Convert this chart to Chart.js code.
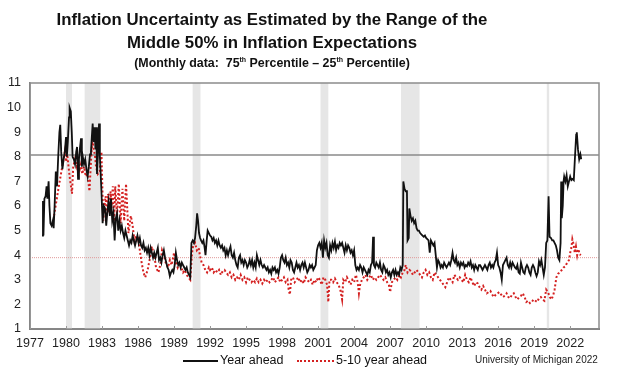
<!DOCTYPE html>
<html>
<head>
<meta charset="utf-8">
<title>Inflation Uncertainty</title>
<script src="https://cdn.jsdelivr.net/npm/chart.js@4.4.1/dist/chart.umd.min.js"></script>
<style>
    html, body { margin: 0; padding: 0; background: #fff; }
    body { width: 620px; height: 376px; position: relative; overflow: hidden; font-family: "Liberation Sans", Arial, sans-serif; color: #111; }
    #chart { position: absolute; left: 0; top: 0; }
    .title { position: absolute; left: 0; width: 544px; text-align: center; font-weight: bold; }
    .title.main { top: 8px; font-size: 16.8px; line-height: 23px; }
    .title.sub { top: 56px; font-size: 12.4px; line-height: 14px; }
    .title sup { font-size: 7px; vertical-align: 5px; line-height: 0; }
    .legend { position: absolute; top: 352px; font-size: 12.5px; line-height: 16px; white-space: nowrap; }
    .legend .swatch { position: absolute; top: 8px; width: 35px; height: 0; }
    .source { position: absolute; left: 475px; top: 354px; font-size: 10px; line-height: 12px; color: #222; }
</style>
</head>
<body>
<canvas id="chart" width="620" height="376"></canvas>
<div class="title main">Inflation Uncertainty as Estimated by the Range of the<br>Middle 50% in Inflation Expectations</div>
<div class="title sub">(Monthly data:&nbsp; 75<sup>th</sup> Percentile – 25<sup>th</sup> Percentile)</div>
<div class="legend" style="left:183px;"><span class="swatch" style="left:0;border-top:2px solid #111;"></span><span style="margin-left:37px;">Year ahead</span></div>
<div class="legend" style="left:297px;"><span class="swatch" style="left:0;width:37px;border-top:2px dotted #d42020;"></span><span style="margin-left:39px;">5-10 year ahead</span></div>
<div class="source">University of Michigan 2022</div>
<script>
// data: [decimal year, percentage points]
const yearAhead = [
    [1978.00, 4.8], [1978.08, 6.2], [1978.12, 4.8], [1978.20, 6.3], [1978.30, 6.4], [1978.38, 6.8],
    [1978.45, 6.3], [1978.55, 7.0], [1978.62, 6.0], [1978.70, 5.3], [1978.80, 5.2], [1978.90, 5.4],
    [1978.97, 5.1], [1979.05, 6.0], [1979.15, 7.4], [1979.25, 6.8], [1979.35, 8.0], [1979.45, 9.0],
    [1979.52, 9.3], [1979.60, 8.2], [1979.70, 7.5], [1979.80, 7.9], [1979.90, 8.2], [1980.00, 8.8],
    [1980.07, 8.0], [1980.15, 8.6], [1980.25, 9.6], [1980.30, 10.0], [1980.40, 9.85], [1980.48, 9.0],
    [1980.55, 8.0], [1980.65, 7.9], [1980.75, 7.7], [1980.85, 8.2], [1980.92, 8.4], [1981.00, 7.1],
    [1981.08, 7.9], [1981.15, 8.3], [1981.25, 8.75], [1981.32, 7.6], [1981.40, 8.0], [1981.50, 7.7],
    [1981.60, 7.9], [1981.70, 7.5], [1981.80, 7.2], [1981.90, 7.6], [1982.00, 8.1], [1982.08, 8.2],
    [1982.15, 8.8], [1982.22, 9.35], [1982.30, 8.6], [1982.38, 9.2], [1982.45, 8.3], [1982.52, 9.2],
    [1982.58, 7.3], [1982.65, 8.0], [1982.75, 9.35], [1982.82, 8.0], [1982.88, 7.4], [1982.95, 6.6],
    [1983.05, 5.3], [1983.15, 6.0], [1983.25, 5.9], [1983.35, 5.2], [1983.45, 5.8], [1983.55, 6.2],
    [1983.65, 5.6], [1983.75, 6.3], [1983.85, 5.4], [1983.95, 5.7], [1984.05, 4.6], [1984.15, 5.5],
    [1984.25, 5.7], [1984.35, 5.0], [1984.45, 5.4], [1984.55, 5.0], [1984.65, 5.2], [1984.75, 4.9],
    [1984.85, 4.7], [1984.95, 5.0], [1985.05, 4.8], [1985.15, 4.6], [1985.25, 4.4], [1985.35, 4.6],
    [1985.45, 4.5], [1985.55, 4.8], [1985.65, 4.6], [1985.75, 4.4], [1985.85, 4.6], [1985.95, 4.8],
    [1986.05, 4.5], [1986.15, 4.7], [1986.25, 4.4], [1986.35, 4.3], [1986.45, 4.5], [1986.55, 4.2],
    [1986.65, 4.3], [1986.75, 4.1], [1986.85, 4.3], [1986.95, 4.0], [1987.05, 4.3], [1987.15, 4.1],
    [1987.25, 3.9], [1987.35, 4.1], [1987.45, 3.9], [1987.55, 4.1], [1987.65, 4.3], [1987.75, 3.8],
    [1987.85, 3.9], [1987.95, 3.7], [1988.05, 4.0], [1988.15, 4.2], [1988.25, 3.9], [1988.35, 3.7],
    [1988.45, 3.5], [1988.55, 3.4], [1988.65, 3.15], [1988.75, 3.3], [1988.85, 3.4], [1988.95, 3.3],
    [1989.05, 3.6], [1989.15, 4.1], [1989.25, 3.8], [1989.35, 3.6], [1989.45, 3.7], [1989.55, 3.5],
    [1989.65, 3.7], [1989.75, 3.6], [1989.85, 3.5], [1989.95, 3.4], [1990.05, 3.5], [1990.15, 3.3],
    [1990.25, 3.2], [1990.35, 3.1], [1990.45, 4.5], [1990.55, 4.6], [1990.65, 4.5], [1990.75, 4.7],
    [1990.85, 5.2], [1990.92, 5.7], [1991.00, 5.4], [1991.08, 4.9], [1991.17, 4.7], [1991.25, 4.6],
    [1991.35, 4.5], [1991.45, 4.6], [1991.55, 4.3], [1991.62, 4.0], [1991.72, 4.6], [1991.80, 5.0],
    [1991.90, 4.9], [1992.00, 4.8], [1992.10, 4.75], [1992.20, 4.6], [1992.30, 4.7], [1992.40, 4.5],
    [1992.50, 4.6], [1992.60, 4.4], [1992.70, 4.6], [1992.80, 4.4], [1992.90, 4.3], [1993.00, 4.4],
    [1993.10, 4.2], [1993.20, 4.3], [1993.30, 4.0], [1993.40, 4.2], [1993.50, 4.0], [1993.60, 4.2],
    [1993.70, 4.35], [1993.80, 4.0], [1993.90, 3.9], [1994.00, 4.1], [1994.10, 3.8], [1994.20, 3.6],
    [1994.30, 3.5], [1994.40, 3.9], [1994.50, 4.0], [1994.60, 3.7], [1994.70, 3.8], [1994.80, 3.6],
    [1994.90, 3.8], [1995.00, 3.7], [1995.10, 3.5], [1995.20, 3.6], [1995.30, 3.8], [1995.40, 3.6],
    [1995.50, 3.8], [1995.60, 3.5], [1995.70, 3.7], [1995.80, 3.5], [1995.90, 4.0], [1996.00, 3.8],
    [1996.10, 3.6], [1996.20, 3.8], [1996.30, 3.6], [1996.40, 3.5], [1996.50, 3.6], [1996.60, 3.5],
    [1996.70, 3.4], [1996.80, 3.5], [1996.90, 3.3], [1997.00, 3.4], [1997.10, 3.25], [1997.20, 3.5],
    [1997.30, 3.4], [1997.40, 3.5], [1997.50, 3.3], [1997.60, 3.4], [1997.70, 3.25], [1997.80, 3.5],
    [1997.90, 3.9], [1998.00, 4.0], [1998.10, 3.8], [1998.20, 3.7], [1998.30, 3.9], [1998.40, 3.6],
    [1998.50, 3.7], [1998.60, 3.5], [1998.70, 3.8], [1998.80, 3.7], [1998.90, 3.4], [1999.00, 3.3],
    [1999.10, 3.5], [1999.20, 3.7], [1999.30, 3.5], [1999.40, 3.6], [1999.50, 3.4], [1999.60, 3.6],
    [1999.70, 3.7], [1999.80, 3.5], [1999.90, 3.7], [2000.00, 3.5], [2000.10, 3.3], [2000.20, 3.4],
    [2000.30, 3.6], [2000.40, 3.5], [2000.50, 3.6], [2000.60, 3.4], [2000.70, 3.5], [2000.80, 3.6],
    [2000.90, 4.2], [2001.00, 4.4], [2001.10, 4.5], [2001.20, 4.3], [2001.30, 4.5], [2001.40, 3.9],
    [2001.50, 4.6], [2001.60, 4.3], [2001.70, 4.5], [2001.80, 4.0], [2001.90, 3.9], [2002.00, 4.4],
    [2002.10, 4.2], [2002.20, 4.5], [2002.30, 4.3], [2002.40, 4.55], [2002.50, 4.2], [2002.60, 4.4],
    [2002.70, 4.3], [2002.80, 4.5], [2002.90, 4.4], [2003.00, 4.5], [2003.10, 4.3], [2003.20, 4.1],
    [2003.30, 4.4], [2003.40, 4.2], [2003.50, 4.4], [2003.60, 4.3], [2003.70, 4.1], [2003.80, 4.2],
    [2003.90, 4.0], [2004.00, 4.2], [2004.10, 3.6], [2004.20, 3.4], [2004.30, 3.5], [2004.40, 3.4],
    [2004.50, 3.6], [2004.60, 3.5], [2004.70, 3.3], [2004.80, 3.5], [2004.90, 3.4], [2005.00, 3.3],
    [2005.10, 3.2], [2005.20, 3.4], [2005.30, 3.3], [2005.40, 3.6], [2005.50, 3.7], [2005.58, 4.75],
    [2005.65, 3.6], [2005.75, 3.5], [2005.85, 3.7], [2005.95, 3.6], [2006.05, 3.5], [2006.15, 3.7],
    [2006.25, 3.4], [2006.35, 3.3], [2006.45, 3.6], [2006.55, 3.5], [2006.65, 3.3], [2006.75, 3.4],
    [2006.85, 3.2], [2006.95, 3.3], [2007.05, 3.1], [2007.15, 3.3], [2007.25, 3.4], [2007.35, 3.2],
    [2007.45, 3.4], [2007.55, 3.2], [2007.65, 3.3], [2007.75, 3.2], [2007.85, 3.5], [2007.95, 3.4],
    [2008.05, 3.6], [2008.10, 7.0], [2008.20, 6.7], [2008.30, 6.6], [2008.40, 6.6], [2008.45, 4.6],
    [2008.55, 4.7], [2008.60, 5.9], [2008.70, 5.6], [2008.80, 5.4], [2008.90, 5.5], [2009.00, 5.3],
    [2009.10, 5.4], [2009.20, 5.1], [2009.30, 5.0], [2009.40, 5.0], [2009.50, 4.9], [2009.60, 4.85],
    [2009.70, 4.8], [2009.80, 4.75], [2009.90, 4.8], [2010.00, 4.7], [2010.10, 4.65], [2010.20, 4.6],
    [2010.30, 4.1], [2010.40, 4.6], [2010.50, 4.5], [2010.60, 4.4], [2010.70, 4.5], [2010.80, 4.0],
    [2010.90, 3.5], [2011.00, 3.8], [2011.10, 3.7], [2011.20, 3.5], [2011.30, 3.6], [2011.40, 3.5],
    [2011.50, 3.7], [2011.60, 3.6], [2011.70, 3.5], [2011.80, 3.6], [2011.90, 3.7], [2012.00, 3.6],
    [2012.10, 3.8], [2012.20, 4.1], [2012.30, 3.8], [2012.40, 3.7], [2012.50, 3.9], [2012.60, 3.6],
    [2012.70, 3.7], [2012.80, 3.5], [2012.90, 3.7], [2013.00, 3.6], [2013.10, 3.7], [2013.20, 3.5],
    [2013.30, 3.6], [2013.40, 3.55], [2013.50, 3.7], [2013.60, 3.6], [2013.70, 3.75], [2013.80, 3.5],
    [2013.90, 3.6], [2014.00, 3.4], [2014.10, 3.6], [2014.20, 3.5], [2014.30, 3.4], [2014.40, 3.6],
    [2014.50, 3.6], [2014.60, 3.5], [2014.70, 3.4], [2014.80, 3.5], [2014.90, 3.6], [2015.00, 3.5],
    [2015.10, 3.4], [2015.20, 3.6], [2015.30, 3.7], [2015.40, 3.5], [2015.50, 3.6], [2015.60, 3.5],
    [2015.70, 3.7], [2015.80, 3.8], [2015.90, 4.1], [2016.00, 3.6], [2016.10, 3.5], [2016.20, 3.3],
    [2016.30, 3.0], [2016.40, 3.6], [2016.50, 3.7], [2016.60, 3.8], [2016.70, 3.9], [2016.80, 3.6],
    [2016.90, 3.5], [2017.00, 3.7], [2017.10, 3.5], [2017.20, 3.7], [2017.30, 3.6], [2017.40, 3.5],
    [2017.50, 3.45], [2017.60, 3.6], [2017.70, 3.3], [2017.80, 3.25], [2017.90, 3.7], [2018.00, 3.5],
    [2018.10, 3.3], [2018.20, 3.25], [2018.30, 3.5], [2018.40, 3.6], [2018.50, 3.5], [2018.60, 3.3],
    [2018.70, 3.2], [2018.80, 3.5], [2018.90, 3.6], [2019.00, 3.5], [2019.10, 3.3], [2019.20, 3.15],
    [2019.30, 3.3], [2019.40, 3.75], [2019.50, 3.6], [2019.60, 3.8], [2019.70, 3.5], [2019.80, 3.2],
    [2019.90, 3.5], [2020.00, 4.5], [2020.10, 4.6], [2020.20, 6.4], [2020.28, 4.75], [2020.40, 4.7],
    [2020.50, 4.6], [2020.60, 4.6], [2020.70, 4.5], [2020.80, 4.4], [2020.90, 4.2], [2021.00, 3.9],
    [2021.10, 3.8], [2021.20, 4.5], [2021.25, 7.0], [2021.30, 5.5], [2021.38, 6.0], [2021.45, 7.0],
    [2021.50, 7.2], [2021.60, 7.0], [2021.70, 7.25], [2021.80, 6.8], [2021.90, 7.0], [2022.00, 7.2],
    [2022.10, 7.05], [2022.20, 7.1], [2022.30, 7.05], [2022.40, 8.0], [2022.50, 8.9], [2022.55, 9.0],
    [2022.65, 8.3], [2022.75, 7.9], [2022.85, 8.1], [2022.92, 7.9]
];

const fiveToTen = [
    [1979.00, 5.6], [1979.40, 6.8], [1979.90, 8.2], [1980.00, 7.8], [1980.10, 8.1], [1980.30, 7.2],
    [1980.50, 6.5], [1980.60, 7.6], [1980.75, 7.9], [1980.90, 7.6], [1981.00, 7.8], [1981.15, 7.5],
    [1981.25, 7.7], [1981.35, 7.3], [1981.50, 7.6], [1981.65, 7.2], [1981.80, 7.3], [1981.95, 6.6],
    [1982.10, 8.0], [1982.20, 8.7], [1982.30, 8.3], [1982.40, 8.1], [1982.50, 7.6], [1982.65, 7.3],
    [1982.80, 7.4], [1982.95, 8.2], [1983.10, 5.4], [1983.20, 6.0], [1983.30, 6.4], [1983.40, 5.6],
    [1983.50, 6.5], [1983.60, 5.7], [1983.70, 6.6], [1983.80, 6.0], [1983.90, 6.8], [1984.00, 5.2],
    [1984.10, 6.8], [1984.25, 5.6], [1984.40, 6.9], [1984.55, 5.3], [1984.70, 6.7], [1984.85, 5.4],
    [1985.00, 6.9], [1985.20, 4.9], [1985.40, 5.6], [1985.55, 5.2], [1985.70, 4.6], [1985.85, 4.8],
    [1986.00, 4.7], [1986.15, 4.2], [1986.30, 3.7], [1986.45, 3.3], [1986.60, 3.1], [1986.80, 3.4],
    [1987.00, 3.9], [1987.15, 4.35], [1987.35, 4.0], [1987.50, 3.5], [1987.70, 3.3], [1987.85, 3.6],
    [1988.00, 4.2], [1988.15, 4.0], [1988.30, 3.7], [1988.50, 3.5], [1988.65, 3.8], [1988.80, 3.6],
    [1989.00, 4.1], [1989.15, 3.7], [1989.30, 3.5], [1989.45, 3.7], [1989.60, 3.5], [1989.75, 3.3],
    [1989.90, 3.4], [1990.05, 3.2], [1990.20, 3.1], [1990.35, 3.0], [1990.50, 4.1], [1990.60, 4.4],
    [1990.75, 4.5], [1990.90, 4.2], [1991.05, 4.3], [1991.15, 4.0], [1991.30, 3.7], [1991.45, 3.6],
    [1991.60, 3.4], [1991.75, 3.3], [1991.90, 3.5], [1992.00, 3.4], [1992.15, 3.5], [1992.30, 3.3],
    [1992.45, 3.4], [1992.60, 3.3], [1992.75, 3.4], [1992.90, 3.2], [1993.05, 3.35], [1993.20, 3.4],
    [1993.35, 3.3], [1993.50, 3.2], [1993.65, 3.3], [1993.80, 3.1], [1993.95, 3.2], [1994.10, 3.0],
    [1994.25, 3.1], [1994.40, 3.0], [1994.55, 3.2], [1994.70, 3.0], [1994.85, 3.1], [1995.00, 2.9],
    [1995.15, 3.1], [1995.30, 3.0], [1995.45, 2.9], [1995.60, 3.0], [1995.75, 2.9], [1995.90, 3.05],
    [1996.05, 2.9], [1996.20, 3.0], [1996.35, 2.85], [1996.50, 3.0], [1996.65, 2.9], [1996.80, 3.0],
    [1996.95, 2.9], [1997.10, 3.0], [1997.25, 3.1], [1997.40, 2.9], [1997.55, 3.0], [1997.70, 3.1],
    [1997.85, 2.9], [1998.00, 3.0], [1998.15, 3.1], [1998.30, 2.9], [1998.45, 3.0], [1998.55, 2.6],
    [1998.65, 2.4], [1998.75, 3.0], [1998.90, 3.1], [1999.05, 2.9], [1999.20, 3.0], [1999.35, 3.1],
    [1999.50, 2.9], [1999.65, 3.0], [1999.80, 2.85], [1999.95, 3.1], [2000.10, 3.0], [2000.25, 2.9],
    [2000.40, 3.0], [2000.55, 2.8], [2000.70, 3.0], [2000.85, 2.9], [2001.00, 3.1], [2001.15, 3.0],
    [2001.30, 2.8], [2001.45, 3.1], [2001.60, 3.0], [2001.75, 2.8], [2001.85, 2.1], [2001.95, 3.0],
    [2002.10, 3.0], [2002.25, 2.9], [2002.40, 3.05], [2002.55, 2.9], [2002.70, 2.8], [2002.85, 2.6],
    [2003.00, 2.2], [2003.10, 3.0], [2003.25, 2.9], [2003.40, 3.1], [2003.55, 2.95], [2003.70, 2.8],
    [2003.85, 3.0], [2004.00, 2.9], [2004.15, 3.2], [2004.30, 2.9], [2004.40, 2.45], [2004.50, 2.8],
    [2004.65, 3.0], [2004.80, 3.1], [2004.95, 3.2], [2005.10, 3.0], [2005.25, 3.1], [2005.40, 3.2],
    [2005.55, 3.0], [2005.70, 3.1], [2005.85, 3.0], [2006.00, 3.1], [2006.15, 3.2], [2006.30, 3.1],
    [2006.45, 3.0], [2006.60, 3.1], [2006.75, 2.9], [2006.90, 2.8], [2007.00, 2.5], [2007.15, 2.9],
    [2007.30, 3.0], [2007.45, 3.1], [2007.60, 3.0], [2007.75, 3.2], [2007.90, 3.1], [2008.05, 3.3],
    [2008.20, 3.4], [2008.30, 3.6], [2008.45, 3.3], [2008.60, 3.4], [2008.75, 3.35], [2008.90, 3.2],
    [2009.05, 3.3], [2009.20, 3.4], [2009.35, 3.3], [2009.50, 3.2], [2009.65, 3.1], [2009.80, 3.3],
    [2009.95, 3.4], [2010.10, 3.2], [2010.25, 3.3], [2010.40, 3.1], [2010.55, 3.0], [2010.70, 3.3],
    [2010.85, 3.2], [2011.00, 3.1], [2011.15, 3.0], [2011.30, 2.9], [2011.45, 2.8], [2011.60, 2.7],
    [2011.75, 2.9], [2011.90, 3.1], [2012.05, 3.0], [2012.20, 2.9], [2012.35, 3.2], [2012.50, 3.1],
    [2012.65, 3.0], [2012.80, 3.1], [2012.95, 3.0], [2013.10, 2.9], [2013.25, 3.2], [2013.40, 3.0],
    [2013.55, 2.9], [2013.70, 3.1], [2013.85, 2.9], [2014.00, 2.75], [2014.15, 2.9], [2014.30, 2.85],
    [2014.45, 2.7], [2014.60, 2.6], [2014.75, 2.75], [2014.90, 2.6], [2015.05, 2.45], [2015.20, 2.5],
    [2015.35, 2.55], [2015.50, 2.4], [2015.65, 2.3], [2015.80, 2.4], [2015.95, 2.45], [2016.10, 2.5],
    [2016.25, 2.4], [2016.40, 2.3], [2016.55, 2.35], [2016.70, 2.45], [2016.85, 2.3], [2017.00, 2.25],
    [2017.15, 2.4], [2017.30, 2.45], [2017.45, 2.3], [2017.60, 2.2], [2017.75, 2.3], [2017.90, 2.35],
    [2018.05, 2.45], [2018.20, 2.3], [2018.35, 2.1], [2018.50, 2.15], [2018.65, 2.05], [2018.80, 2.1],
    [2018.95, 2.2], [2019.10, 2.15], [2019.25, 2.1], [2019.40, 2.25], [2019.55, 2.3], [2019.70, 2.2],
    [2019.85, 2.15], [2020.00, 2.6], [2020.15, 2.5], [2020.30, 2.3], [2020.45, 2.2], [2020.60, 2.4],
    [2020.70, 2.6], [2020.85, 3.1], [2021.00, 3.25], [2021.15, 3.3], [2021.30, 3.4], [2021.45, 3.5],
    [2021.60, 3.55], [2021.75, 3.7], [2021.90, 3.8], [2022.00, 4.1], [2022.10, 4.3], [2022.18, 4.65],
    [2022.28, 4.45], [2022.38, 4.1], [2022.48, 4.35], [2022.58, 4.0], [2022.68, 4.25], [2022.78, 4.05],
    [2022.88, 4.0]
];

// recession periods (shaded)
const recessionStart = [1980.0, 1981.55, 1990.55, 2001.2, 2007.9, 2020.05];
const recessionEnd = [1980.5, 1982.85, 1991.2, 2001.85, 2009.45, 2020.25];

// horizontal reference levels
const yearAheadRef = 8.07;
const fiveToTenRef = 3.9;

const xTickYears = [1977, 1980, 1983, 1986, 1989, 1992, 1995, 1998, 2001, 2004, 2007, 2010, 2013, 2016, 2019, 2022];
const yTickValues = [1, 2, 3, 4, 5, 6, 7, 8, 9, 10, 11];
const xMin = 1977;
const xMax = 2024.4;

const toPoints = rows => rows.map(r => ({ x: r[0], y: r[1] }));

// gray recession bands behind the lines + frame around plot
const recessionPlugin = {
    id: 'recessions',
    beforeDatasetsDraw(chart) {
        const { ctx, chartArea, scales } = chart;
        ctx.save();
        ctx.fillStyle = '#e6e6e6';
        recessionStart.forEach((start, i) => {
            const x0 = scales.x.getPixelForValue(start);
            const x1 = scales.x.getPixelForValue(recessionEnd[i]);
            ctx.fillRect(x0, chartArea.top, x1 - x0, chartArea.bottom - chartArea.top);
        });
        ctx.restore();
    },
    afterDatasetsDraw(chart) {
        const { ctx, chartArea, scales } = chart;
        ctx.save();
        ctx.strokeStyle = '#8c8c8c';
        ctx.lineWidth = 1.5;
        ctx.strokeRect(chartArea.left, chartArea.top, chartArea.right - chartArea.left, chartArea.bottom - chartArea.top);
        // short inward tick marks on the year axis
        ctx.strokeStyle = '#999';
        ctx.lineWidth = 1;
        xTickYears.forEach(yr => {
            const x = Math.round(scales.x.getPixelForValue(yr)) + 0.5;
            ctx.beginPath();
            ctx.moveTo(x, chartArea.bottom);
            ctx.lineTo(x, chartArea.bottom - 3);
            ctx.stroke();
        });
        ctx.restore();
    }
};

Chart.defaults.font.family = '"Liberation Sans", Arial, sans-serif';
Chart.defaults.color = '#222';

new Chart(document.getElementById('chart'), {
    type: 'line',
    data: {
        datasets: [{
            label: 'Year ahead',
            data: toPoints(yearAhead),
            borderColor: '#111',
            borderWidth: 1.8,
            pointRadius: 0,
            tension: 0,
            order: 1
        }, {
            label: '5-10 year ahead',
            data: toPoints(fiveToTen),
            borderColor: '#d42020',
            borderWidth: 2,
            borderDash: [2, 2.2],
            pointRadius: 0,
            tension: 0,
            order: 2
        }, {
            label: 'ref-year',
            data: [{ x: xMin, y: yearAheadRef }, { x: xMax, y: yearAheadRef }],
            borderColor: '#8a8a8a',
            borderWidth: 1.5,
            pointRadius: 0,
            order: 3
        }, {
            label: 'ref-5-10',
            data: [{ x: xMin, y: fiveToTenRef }, { x: xMax, y: fiveToTenRef }],
            borderColor: '#e09a9a',
            borderWidth: 1,
            borderDash: [1, 1],
            pointRadius: 0,
            order: 4
        }]
    },
    options: {
        responsive: false,
        animation: false,
        events: [],
        layout: { padding: { top: 83, left: 0, right: 21, bottom: 25 } },
        plugins: {
            legend: { display: false },
            title: { display: false },
            tooltip: { enabled: false }
        },
        scales: {
            x: {
                type: 'linear',
                min: xMin,
                max: xMax,
                grid: { display: false, drawTicks: false },
                border: { display: true, color: '#777', width: 2 },
                afterBuildTicks: s => { s.ticks = xTickYears.map(v => ({ value: v })); },
                afterFit: s => { s.height = 22; },
                ticks: {
                    padding: 7,
                    autoSkip: false,
                    maxRotation: 0,
                    font: { size: 12.5 },
                    color: '#222',
                    callback: v => String(v)
                }
            },
            y: {
                min: 1,
                max: 11,
                grid: { display: false, drawTicks: false },
                border: { display: true, color: '#777', width: 1.5 },
                afterBuildTicks: s => { s.ticks = yTickValues.map(v => ({ value: v })); },
                afterFit: s => { s.width = 30; },
                ticks: {
                    padding: 9,
                    font: { size: 12.5 },
                    color: '#222'
                }
            }
        }
    },
    plugins: [recessionPlugin]
});
</script>
</body>
</html>
